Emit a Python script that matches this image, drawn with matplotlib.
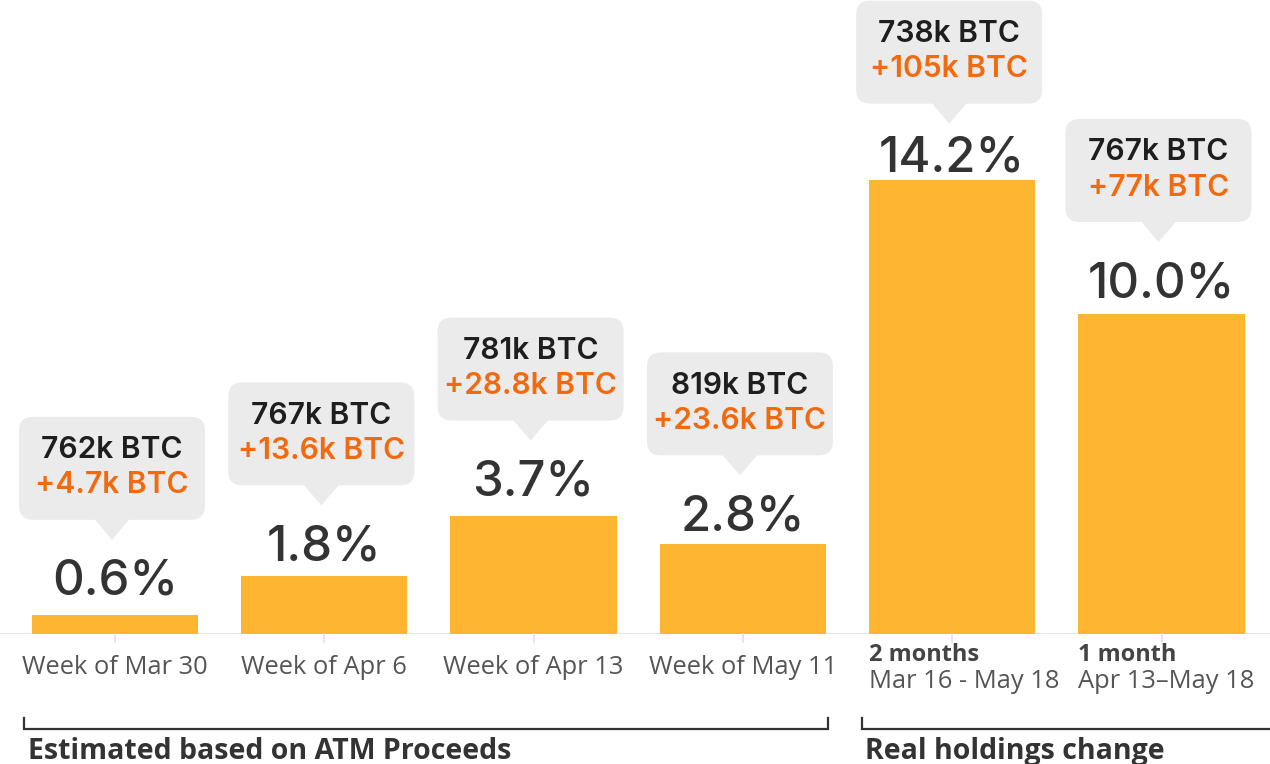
import matplotlib

matplotlib.use("Agg")
import matplotlib.pyplot as plt
import matplotlib.transforms as mtransforms
from matplotlib.patches import FancyBboxPatch, Polygon

# ── data ───────────────────────────────────────────────────────────────
week_labels = ["Week of Mar 30", "Week of Apr 6", "Week of Apr 13", "Week of May 11"]
period_titles = ["2 months", "1 month"]
period_ranges = ["Mar 16 - May 18", "Apr 13\u2013May 18"]
pct_change = [0.6, 1.8, 3.7, 2.8, 14.2, 10.0]
holdings = ["762k BTC", "767k BTC", "781k BTC", "819k BTC", "738k BTC", "767k BTC"]
added = ["+4.7k BTC", "+13.6k BTC", "+28.8k BTC", "+23.6k BTC", "+105k BTC", "+77k BTC"]
group_labels = ["Estimated based on ATM Proceeds", "Real holdings change"]

# per-bar spacing of the annotations (pixels), tallest bar is squeezed
label_gap = [20, 16, 20, 14, 8, 17]
tip_gap = [18, 18, 18, 18, 11, 18]

BAR = "#FDB532"
ORANGE = "#F26A10"
DARK = "#1E1E1E"
PCT = "#333333"
GREY_TXT = "#555555"
BOX = "#EBEBEB"

W, H, DPI = 1270, 764, 100
fig = plt.figure(figsize=(W / DPI, H / DPI), dpi=DPI)

# axes spans full width, baseline 130 px from bottom
ax = fig.add_axes([0, 130 / H, 1, 1 - 130 / H])
px_per_pct = 32.0
x = list(range(len(pct_change)))
step = 209.3
ax.set_xlim(-115 / step, (W - 115) / step)
ax.set_ylim(0, (H - 130) / px_per_pct)
ax.axis("off")

bw = 0.795
ax.bar(x, pct_change, width=bw, color=BAR, zorder=2)
ax.axhline(0, color="#E6E6E6", lw=1.5, zorder=1)
for xi in x:
    ax.plot([xi, xi], [0, -0.25], color="#E0E0E0", lw=1.2, clip_on=False)

pt = 72 / DPI  # pixel -> point
num_font = ["Inter", "DejaVu Sans"]

for xi, v, h, a, lg, tg in zip(x, pct_change, holdings, added, label_gap, tip_gap):
    tr = mtransforms.Affine2D() + mtransforms.ScaledTranslation(xi, v, ax.transData)
    # percent label above the bar
    ax.text(0, lg, f"{v:.1f}%", transform=tr, ha="center", va="baseline",
            fontsize=49 * pt, color=PCT, family=num_font, fontweight="medium")
    # callout box positioned in pixels relative to the bar top
    cx = -3
    tip = lg + 37 + tg
    base = tip + 20
    top = base + 103
    half = 93
    box = FancyBboxPatch((cx - half + 14, base + 14), 2 * half - 28, top - base - 28,
                         boxstyle="round,pad=14", fc=BOX, ec="none",
                         transform=tr, clip_on=False, zorder=3)
    ax.add_patch(box)
    tri = Polygon([[cx - 18, base + 1], [cx + 18, base + 1], [cx, tip]], closed=True,
                  fc=BOX, ec="none", transform=tr, clip_on=False, zorder=3)
    ax.add_patch(tri)
    mid = (base + top) / 2
    ax.text(cx, mid + 18, h, transform=tr, ha="center", va="center",
            fontsize=30 * pt, color=DARK, family=num_font, fontweight="semibold", zorder=4)
    ax.text(cx, mid - 17, a, transform=tr, ha="center", va="center",
            fontsize=30 * pt, color=ORANGE, family=num_font, fontweight="semibold", zorder=4)

# x labels
lab_font = ["Open Sans", "DejaVu Sans"]
below = mtransforms.offset_copy(ax.transData, fig, x=0, y=-34, units="dots")
for xi, lab in zip(x[:4], week_labels):
    ax.text(xi, 0, lab, transform=below, ha="center", va="center",
            fontsize=25.5 * pt, color=GREY_TXT, family=lab_font)
for xi, t, r in zip(x[4:], period_titles, period_ranges):
    t_tr = mtransforms.offset_copy(ax.transData, fig, x=0, y=-21, units="dots")
    r_tr = mtransforms.offset_copy(ax.transData, fig, x=0, y=-48, units="dots")
    ax.text(xi - bw / 2, 0, t, transform=t_tr, ha="left", va="center",
            fontsize=23.5 * pt, color="#444444", family=lab_font, fontweight="bold")
    ax.text(xi - bw / 2, 0, r, transform=r_tr, ha="left", va="center",
            fontsize=25.5 * pt, color=GREY_TXT, family=lab_font)

# group brackets
bt = mtransforms.blended_transform_factory(ax.transData, fig.transFigure)
y_lo, y_hi = 35 / H, 46 / H
spans = [(x[0] - bw / 2 - 0.035, x[3] + bw / 2 + 0.01), (x[4] - bw / 2 - 0.035, 6.0)]
for (x0, x1), g in zip(spans, group_labels):
    ax.plot([x0, x0, x1, x1], [y_hi, y_lo, y_lo, y_hi], transform=bt,
            color="#333333", lw=1.6, clip_on=False, solid_joinstyle="miter")
    ax.text(x0 + 0.015, 5 / H, g, transform=bt, ha="left", va="baseline",
            fontsize=28.5 * pt, color="#333333", family=lab_font, fontweight="bold")

fig.savefig("out.png", dpi=DPI)
